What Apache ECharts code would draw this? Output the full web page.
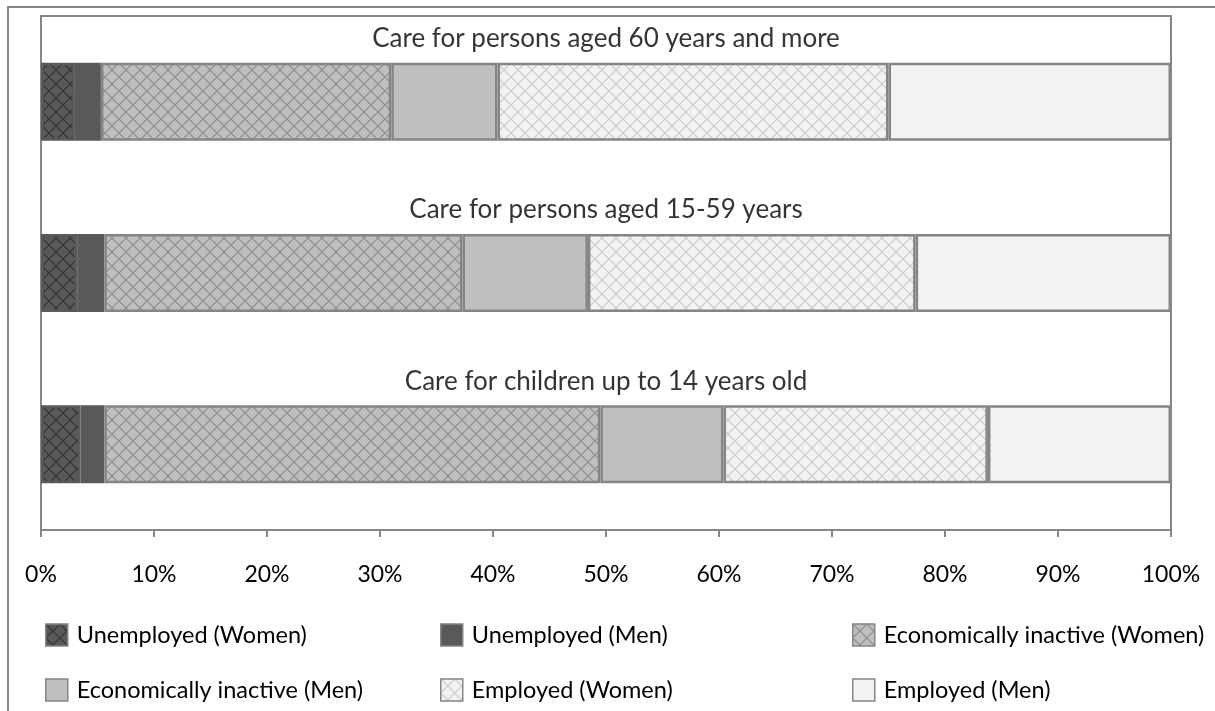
<!DOCTYPE html>
<html>
<head>
<meta charset="utf-8">
<script src="https://cdn.jsdelivr.net/npm/echarts@6/dist/echarts.min.js"></script>
<style>
  html, body { margin: 0; padding: 0; background: #ffffff; }
  #chart { width: 1215px; height: 711px; }
</style>
</head>
<body>
<div id="chart"></div>
<script>
// Categories, bottom to top on the vertical axis
const categories = [
  'Care for children up to 14 years old',
  'Care for persons aged 15-59 years',
  'Care for persons aged 60 years and more'
];

// Shares in percent, in the same order as categories
const unemployedWomen = [3.5, 3.2, 3.0];
const unemployedMen = [2.1, 2.4, 2.3];
const inactiveWomen = [43.9, 31.7, 25.7];
const inactiveMen = [10.9, 11.1, 9.4];
const employedWomen = [23.4, 29.0, 34.6];
const employedMen = [16.2, 22.6, 25.0];

const seriesNames = [
  'Unemployed (Women)',
  'Unemployed (Men)',
  'Economically inactive (Women)',
  'Economically inactive (Men)',
  'Employed (Women)',
  'Employed (Men)'
];

const FONT = 'Lato, "Open Sans", sans-serif';

// Diagonal cross-hatch tile used for the "Women" segments
function hatch(base, line) {
  const s = 14;
  const c = document.createElement('canvas');
  c.width = s; c.height = s;
  const g = c.getContext('2d');
  g.fillStyle = base;
  g.fillRect(0, 0, s, s);
  g.strokeStyle = line;
  g.lineWidth = 1.3;
  g.beginPath();
  g.moveTo(0, 0); g.lineTo(s, s);
  g.moveTo(s, 0); g.lineTo(0, s);
  g.stroke();
  return { image: c, repeat: 'repeat' };
}

const fills = [
  hatch('#595959', '#383838'),
  '#595959',
  hatch('#bfbfbf', '#929292'),
  '#bfbfbf',
  hatch('#f2f2f2', '#cfcfcf'),
  '#f2f2f2'
];
const borders = ['#5a5a5a', '#5a5a5a', '#858585', '#858585', '#858585', '#858585'];
const values = [unemployedWomen, unemployedMen, inactiveWomen, inactiveMen, employedWomen, employedMen];

const barSeries = seriesNames.map((name, i) => ({
  name: name,
  type: 'bar',
  stack: 'total',
  barCategoryGap: '54.5%',
  data: values[i],
  itemStyle: { color: fills[i], borderColor: borders[i], borderWidth: 2.5 },
  emphasis: { disabled: true }
}));

// Category headings above each bar
const headingSeries = {
  type: 'scatter',
  symbolSize: 0,
  silent: true,
  z: 1,
  data: categories.map((c, i) => [50, i]),
  label: {
    show: true,
    position: 'inside',
    offset: [0, -63],
    fontFamily: FONT,
    fontSize: 26,
    color: '#000',
    formatter: p => categories[p.data[1]]
  }
};

// Legend placed as a 3 x 2 table
const legendSlots = [
  [45, 623], [440, 623], [852, 623],
  [45, 678], [440, 678], [852, 678]
];
const legends = seriesNames.map((name, i) => ({
  data: [name],
  left: legendSlots[i][0],
  top: legendSlots[i][1],
  padding: 0,
  itemWidth: 22,
  itemHeight: 22,
  icon: 'rect',
  selectedMode: false,
  itemStyle: { borderColor: '#858585', borderWidth: 1.5 },
  textStyle: { fontFamily: FONT, fontSize: 23.5, color: '#000', padding: [0, 0, 0, 4] }
}));

const chart = echarts.init(document.getElementById('chart'), null, { renderer: 'canvas' });
chart.setOption({
  animation: false,
  backgroundColor: '#ffffff',
  graphic: [{
    type: 'rect',
    shape: { x: 8, y: 7, width: 1400, height: 900 },
    style: { fill: 'none', stroke: '#878787', lineWidth: 2 },
    silent: true
  }],
  grid: {
    left: 41, right: 44, top: 16, bottom: 181,
    show: true, borderColor: '#868686', borderWidth: 2, backgroundColor: 'transparent'
  },
  legend: legends,
  xAxis: {
    type: 'value',
    min: 0, max: 100, interval: 10,
    axisLine: { show: true, lineStyle: { color: '#868686', width: 2 } },
    axisTick: { show: true, length: 7, lineStyle: { color: '#868686', width: 2 } },
    splitLine: { show: false },
    axisLabel: { formatter: '{value}%', fontFamily: FONT, fontSize: 23, color: '#000', margin: 33 }
  },
  yAxis: {
    type: 'category',
    data: categories,
    axisLine: { show: true, lineStyle: { color: '#868686', width: 2 } },
    axisTick: { show: false },
    axisLabel: { show: false }
  },
  series: barSeries.concat([headingSeries])
});
</script>
</body>
</html>
